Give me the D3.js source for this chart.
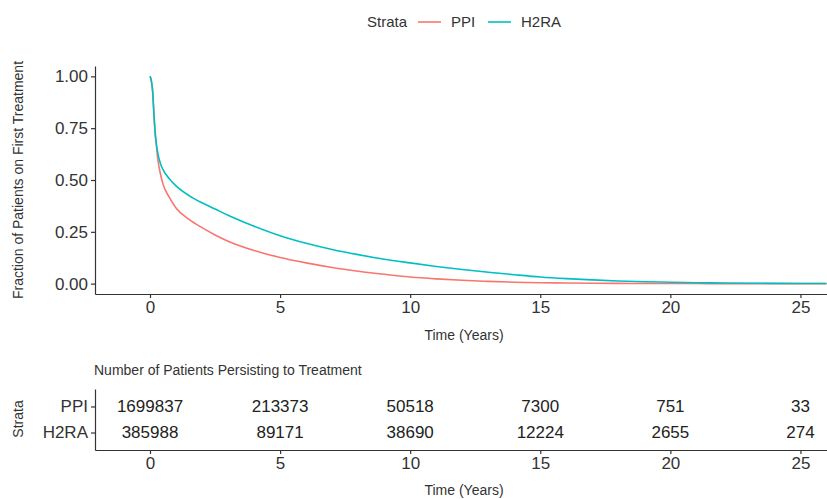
<!DOCTYPE html>
<html>
<head>
<meta charset="utf-8">
<script src="https://cdn.jsdelivr.net/npm/d3@7"></script>
<style>
  body { margin: 0; background: #fff; }
  svg { font-family: "Liberation Sans", Arial, sans-serif; }
  .axis path, .axis line { stroke: #333; stroke-width: 1.2; }
  .axis text { fill: #333; font-size: 17px; }
</style>
</head>
<body>
<svg width="827" height="499"></svg>
<script>
// survival curves
const times = [0, 0.05, 0.1, 0.15, 0.2, 0.25, 0.3, 0.4, 0.5, 0.75, 1, 1.5, 2, 2.5, 3, 4, 5, 6, 7, 8, 9, 10,
  11, 12, 13, 14, 15, 16, 17, 18, 19, 20, 21, 22, 23, 24, 25, 26];
const ppi = [1, 0.98, 0.93, 0.82, 0.72, 0.66, 0.6, 0.53, 0.48, 0.415, 0.365, 0.31, 0.27, 0.235, 0.205, 0.16, 0.126,
  0.1, 0.078, 0.06, 0.045, 0.032, 0.023, 0.016, 0.011, 0.007, 0.0045, 0.003, 0.002, 0.0012, 0.0007, 0.0005,
  0.0003, 0.0002, 0.0001, 0.0001, 0.00005, 0.00002];
const h2ra = [1, 0.98, 0.93, 0.82, 0.73, 0.67, 0.63, 0.58, 0.55, 0.505, 0.472, 0.425, 0.39, 0.36, 0.33, 0.277, 0.231,
  0.195, 0.165, 0.14, 0.118, 0.1, 0.083, 0.068, 0.055, 0.043, 0.032, 0.024, 0.018, 0.013, 0.009, 0.0069,
  0.0045, 0.003, 0.002, 0.0012, 0.0007, 0.0005];

// risk table
const strata = ["PPI", "H2RA"];
const riskTimes = [0, 5, 10, 15, 20, 25];
const riskPPI = [1699837, 213373, 50518, 7300, 751, 33];
const riskH2RA = [385988, 89171, 38690, 12224, 2655, 274];

const yTicks = [0, 0.25, 0.5, 0.75, 1];
const colors = { PPI: "#F8766D", H2RA: "#00BFC4" };

const svg = d3.select("svg");

// shared x scale
const x = d3.scaleLinear().domain([-2.114, 26.02]).range([95, 827]);

// ---- upper plot ----
const y = d3.scaleLinear().domain([-0.05, 1.05]).range([294, 66]);

svg.append("g")
    .attr("class", "axis")
    .attr("transform", "translate(0,294)")
    .call(d3.axisBottom(x).tickValues(riskTimes).tickSize(4).tickSizeOuter(0).tickPadding(3));

svg.append("g")
    .attr("class", "axis")
    .attr("transform", "translate(95,0)")
    .call(d3.axisLeft(y).tickValues(yTicks).tickFormat(d3.format(".2f")).tickSize(4).tickSizeOuter(0).tickPadding(3));

const line = d3.line()
    .x(d => x(d[0]))
    .y(d => y(d[1]))
    .curve(d3.curveMonotoneX);

const series = [
    { name: "PPI", values: times.map((t, i) => [t, ppi[i]]) },
    { name: "H2RA", values: times.map((t, i) => [t, h2ra[i]]) }
];

svg.append("g")
    .selectAll("path")
    .data(series)
    .join("path")
    .attr("d", d => line(d.values))
    .attr("fill", "none")
    .attr("stroke", d => colors[d.name])
    .attr("stroke-width", 1.6);

// axis titles
svg.append("text")
    .attr("x", 464).attr("y", 340)
    .attr("text-anchor", "middle")
    .attr("font-size", 14).attr("fill", "#333")
    .text("Time (Years)");

svg.append("text")
    .attr("transform", "translate(23,180) rotate(-90)")
    .attr("text-anchor", "middle")
    .attr("font-size", 14).attr("fill", "#333")
    .text("Fraction of Patients on First Treatment");

// legend
const legend = svg.append("g").attr("font-size", 15).attr("fill", "#333");
legend.append("text").attr("x", 367).attr("y", 27).text("Strata");
const legendItems = [
    { name: "PPI", x1: 418, tx: 451 },
    { name: "H2RA", x1: 488, tx: 521 }
];
legendItems.forEach(it => {
    legend.append("line")
        .attr("x1", it.x1).attr("x2", it.x1 + 23)
        .attr("y1", 22).attr("y2", 22)
        .attr("stroke", colors[it.name]).attr("stroke-width", 1.6);
    legend.append("text").attr("x", it.tx).attr("y", 27).text(it.name);
});

// ---- risk table ----
svg.append("text")
    .attr("x", 94).attr("y", 375)
    .attr("font-size", 14).attr("fill", "#333")
    .text("Number of Patients Persisting to Treatment");

const yr = d3.scalePoint().domain(strata).range([389, 450]).padding(0.67);

svg.append("g")
    .attr("class", "axis")
    .attr("transform", "translate(0,450)")
    .call(d3.axisBottom(x).tickValues(riskTimes).tickSize(4).tickSizeOuter(0).tickPadding(3));

svg.append("g")
    .attr("class", "axis")
    .attr("transform", "translate(95,0)")
    .call(d3.axisLeft(yr).tickSize(4).tickSizeOuter(0).tickPadding(3));

const riskRows = [
    { name: "PPI", values: riskPPI },
    { name: "H2RA", values: riskH2RA }
];

svg.append("g")
    .selectAll("g")
    .data(riskRows)
    .join("g")
    .selectAll("text")
    .data(d => d.values.map((v, i) => ({ row: d.name, t: riskTimes[i], v })))
    .join("text")
    .attr("x", d => x(d.t))
    .attr("y", d => yr(d.row))
    .attr("dy", "0.35em")
    .attr("text-anchor", "middle")
    .attr("font-size", 17).attr("fill", "#222")
    .text(d => d.v);

svg.append("text")
    .attr("x", 464).attr("y", 495)
    .attr("text-anchor", "middle")
    .attr("font-size", 14).attr("fill", "#333")
    .text("Time (Years)");

svg.append("text")
    .attr("transform", "translate(23,419) rotate(-90)")
    .attr("text-anchor", "middle")
    .attr("font-size", 14).attr("fill", "#333")
    .text("Strata");
</script>
</body>
</html>
